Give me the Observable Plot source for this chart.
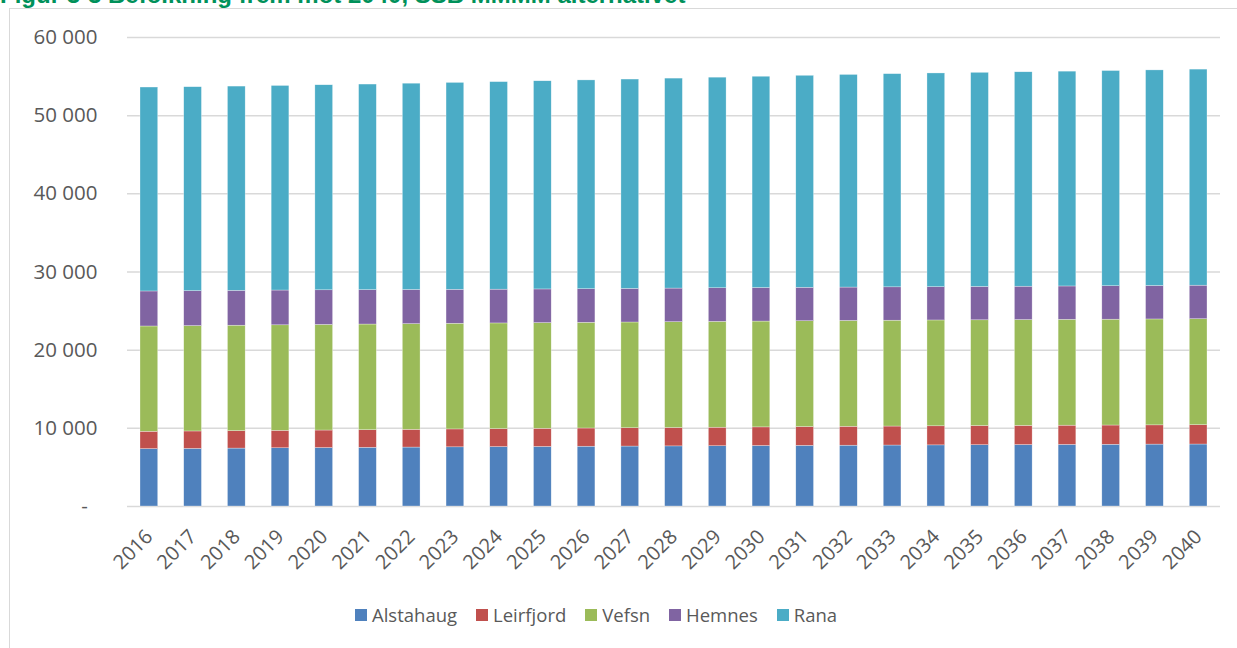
<!DOCTYPE html>
<html>
<head>
<meta charset="utf-8">
<script src="https://cdn.jsdelivr.net/npm/d3@7"></script>
<script src="https://cdn.jsdelivr.net/npm/@observablehq/plot@0.6"></script>
<style>
  body { margin: 0; background: #fff; width: 1237px; height: 648px; overflow: hidden; position: relative; font-family: "Open Sans", sans-serif; }
  #frame { position: absolute; left: 9px; top: 8px; width: 1300px; height: 700px; border: 1px solid #d9d9d9; }
  #title { position: absolute; left: 0; top: -19px; font: bold 24px "Liberation Sans", Arial, sans-serif; color: #00915a; white-space: nowrap; }
  #chart { position: absolute; left: 0; top: 0; width: 1237px; }
  #legend { position: absolute; left: 355px; top: 602px; display: flex; gap: 19px; font-size: 18.5px; color: #595959; line-height: 26px; }
  .item { display: flex; align-items: center; gap: 5px; }
  .sw { width: 12px; height: 12px; display: inline-block; }
</style>
</head>
<body>
<div id="frame"></div>
<div id="title">Figur 3-3 Befolkning frem mot 2040, SSB MMMM alternativet</div>
<div id="chart"></div>
<div id="legend"></div>
<script>
const years = [2016, 2017, 2018, 2019, 2020, 2021, 2022, 2023, 2024, 2025, 2026, 2027, 2028,
               2029, 2030, 2031, 2032, 2033, 2034, 2035, 2036, 2037, 2038, 2039, 2040];
const series = ["Alstahaug", "Leirfjord", "Vefsn", "Hemnes", "Rana"];
const colors = ["#4f81bd", "#c0504d", "#9bbb59", "#8064a2", "#4bacc6"];

const alstahaug = [7340, 7370, 7410, 7450, 7480, 7510, 7540, 7570, 7600, 7620, 7650, 7670, 7690,
                   7710, 7740, 7760, 7780, 7800, 7820, 7840, 7860, 7880, 7900, 7920, 7930];
const leirfjord = [2220, 2230, 2230, 2230, 2240, 2250, 2270, 2290, 2300, 2320, 2330, 2340, 2350,
                   2370, 2380, 2400, 2420, 2430, 2440, 2450, 2450, 2460, 2460, 2460, 2470];
const vefsn = [13470, 13480, 13490, 13500, 13510, 13520, 13520, 13520, 13520, 13520, 13520, 13530, 13540,
               13540, 13540, 13540, 13540, 13540, 13540, 13530, 13540, 13540, 13540, 13550, 13560];
const hemnes = [4480, 4470, 4460, 4450, 4430, 4400, 4370, 4340, 4320, 4310, 4300, 4300, 4300,
                4300, 4290, 4280, 4270, 4270, 4260, 4270, 4270, 4270, 4280, 4280, 4290];
const rana = [26090, 26090, 26130, 26170, 26230, 26300, 26390, 26470, 26550, 26630, 26710, 26780, 26860,
              26940, 27030, 27120, 27200, 27270, 27340, 27390, 27430, 27480, 27530, 27580, 27640];

const yTicks = [0, 10000, 20000, 30000, 40000, 50000, 60000];

const valuesBySeries = [alstahaug, leirfjord, vefsn, hemnes, rana];
const data = years.flatMap((yr, i) =>
  series.map((s, j) => ({ year: String(yr), series: s, value: valuesBySeries[j][i] })));

const fmt = d => d3.format(",")(d).replace(/,/g, " ");

const chart = Plot.plot({
  width: 1237,
  height: 590,
  marginLeft: 127,
  marginRight: 17,
  marginTop: 37,
  marginBottom: 84,
  style: { fontFamily: "'Open Sans', sans-serif", color: "#595959", background: "transparent", overflow: "visible" },
  x: { domain: years.map(String), padding: 0, round: false, axis: null },
  y: { domain: [0, 60000], axis: null },
  color: { domain: series, range: colors },
  marks: [
    Plot.ruleY(yTicks, { stroke: "#d9d9d9", strokeWidth: 1.5 }),
    Plot.barY(data, { x: "year", y: "value", fill: "series", insetLeft: 13, insetRight: 13,
      stroke: "#ffffff", strokeWidth: 0.5, strokeOpacity: 0.6 }),
    Plot.axisY({ ticks: yTicks.filter(d => d > 0), tickFormat: fmt, tickSize: 0, tickPadding: 30, fontSize: 20.5, fill: "#595959", label: null }),
    Plot.text([0], { y: d => d, frameAnchor: "left", dx: -43, text: () => "-", textAnchor: "middle", fontSize: 20.5, fill: "#595959" }),
    Plot.text(years.map(String), { x: d => d, frameAnchor: "bottom", dy: 27, dx: 0, rotate: -45,
      textAnchor: "end", lineAnchor: "middle", fontSize: 20, fill: "#595959" })
  ]
});
document.getElementById("chart").appendChild(chart);

const legend = document.getElementById("legend");
series.forEach((s, j) => {
  const item = document.createElement("div");
  item.className = "item";
  const sw = document.createElement("span");
  sw.className = "sw";
  sw.style.background = colors[j];
  const t = document.createElement("span");
  t.textContent = s;
  item.appendChild(sw);
  item.appendChild(t);
  legend.appendChild(item);
});
</script>
</body>
</html>
